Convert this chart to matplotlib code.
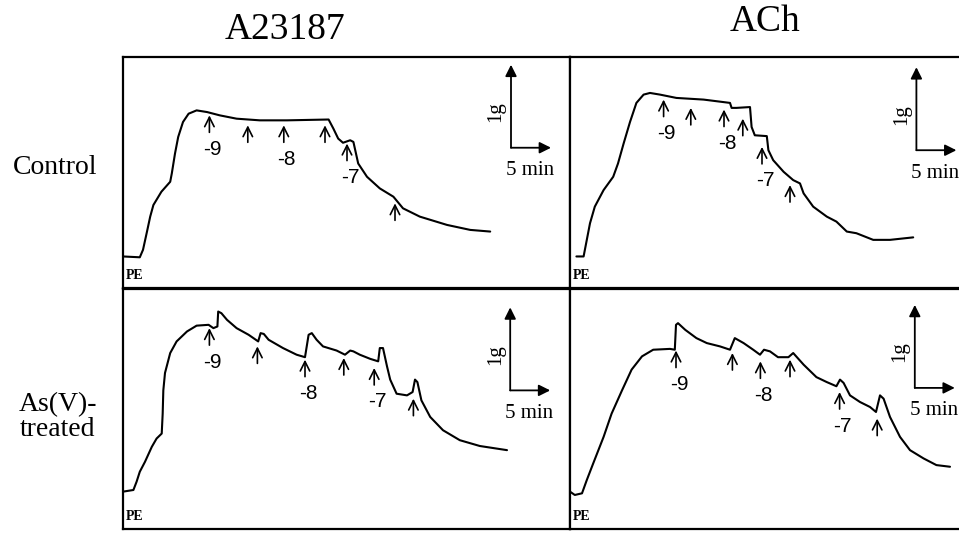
import matplotlib
matplotlib.use("Agg")
import matplotlib.pyplot as plt

# Contraction traces (time in min, tension in g)
# Control / A23187
ctl_a23_t = [0, 2.1, 2.5, 3.0, 3.4, 3.8, 4.8, 5.9, 6.1, 6.5, 6.9, 7.5, 8.2, 9.2, 10.5, 12.1,
             14.2, 17.1, 20.5, 25.7, 26.3, 26.9, 27.5, 28.4, 28.8, 29.4, 30.5, 32.1, 33.8,
             35.0, 37.1, 40.5, 43.4, 45.9]
ctl_a23_g = [0.38, 0.37, 0.46, 0.68, 0.86, 1.00, 1.16, 1.28, 1.38, 1.62, 1.82, 2.00, 2.10, 2.14,
             2.12, 2.08, 2.04, 2.02, 2.02, 2.03, 1.92, 1.80, 1.75, 1.78, 1.76, 1.50, 1.34,
             1.20, 1.10, 0.96, 0.86, 0.76, 0.70, 0.68]
ctl_a23_arrow_t = [10.8, 15.6, 20.1, 25.25, 28.0, 34.0]
ctl_a23_arrow_g = [2.08, 1.96, 1.96, 1.96, 1.74, 1.02]
ctl_a23_labels = ["-9", "", "-8", "", "-7", ""]

# Control / ACh
ctl_ach_t = [0.8, 1.7, 2.1, 2.5, 3.1, 4.2, 5.4, 6.0, 6.7, 7.5, 8.3, 9.2, 10.0, 11.25, 13.3,
             16.7, 20.0, 20.2, 20.8, 22.5, 22.7, 23.1, 24.6, 24.8, 25.4, 26.7, 27.9, 28.75,
             29.2, 30.4, 32.1, 33.3, 34.6, 35.8, 37.9, 40.0, 42.9]
ctl_ach_g = [0.38, 0.38, 0.58, 0.78, 0.98, 1.18, 1.34, 1.50, 1.74, 2.00, 2.23, 2.33, 2.35, 2.33,
             2.29, 2.27, 2.23, 2.17, 2.17, 2.18, 1.94, 1.84, 1.83, 1.66, 1.54, 1.40, 1.30,
             1.26, 1.14, 0.98, 0.86, 0.80, 0.68, 0.66, 0.58, 0.58, 0.61]
ctl_ach_arrow_t = [11.7, 15.1, 19.25, 21.6, 24.0, 27.5]
ctl_ach_arrow_g = [2.27, 2.17, 2.15, 2.04, 1.70, 1.24]
ctl_ach_labels = ["-9", "", "-8", "", "-7", ""]

# As(V)-treated / A23187
asv_a23_t = [0, 1.3, 1.7, 2.1, 2.75, 3.6, 4.2, 4.84, 4.96, 5.04, 5.25, 5.9, 6.7, 8.0, 9.2,
             10.7, 11.3, 11.8, 11.9, 12.3, 13.0, 14.2, 15.7, 16.9, 17.2, 17.6, 18.2, 20.0,
             21.7, 22.75, 23.2, 23.6, 24.2, 25.0, 26.7, 27.75, 28.4, 28.8, 29.6, 30.9, 31.9,
             32.1, 32.5, 33.0, 33.4, 34.2, 35.5, 36.2, 36.5, 36.8, 37.3, 38.4, 40.0, 42.1,
             44.6, 48.0]
asv_a23_g = [0.45, 0.47, 0.57, 0.69, 0.81, 0.99, 1.09, 1.15, 1.39, 1.67, 1.88, 2.12, 2.26, 2.38,
             2.45, 2.46, 2.42, 2.44, 2.62, 2.60, 2.52, 2.42, 2.34, 2.26, 2.36, 2.35, 2.28,
             2.18, 2.10, 2.07, 2.34, 2.36, 2.28, 2.20, 2.15, 2.10, 2.15, 2.14, 2.10, 2.05,
             2.02, 2.18, 2.18, 1.96, 1.80, 1.63, 1.61, 1.65, 1.80, 1.77, 1.55, 1.35, 1.19,
             1.07, 1.00, 0.95]
asv_a23_arrow_t = [10.8, 16.8, 22.75, 27.6, 31.4, 36.3]
asv_a23_arrow_g = [2.42, 2.20, 2.04, 2.06, 1.94, 1.57]
asv_a23_labels = ["-9", "", "-8", "", "-7", ""]

# As(V)-treated / ACh
asv_ach_t = [0, 0.6, 1.5, 2.1, 2.9, 4.2, 5.2, 6.5, 7.7, 9.0, 10.4, 12.5, 13.1, 13.25, 13.5,
             14.4, 15.8, 17.1, 18.75, 20.0, 20.6, 21.7, 22.9, 23.75, 24.25, 25.0, 26.0, 27.3,
             27.9, 29.2, 30.8, 32.1, 33.3, 33.75, 34.2, 35.0, 36.25, 37.5, 38.25, 38.75,
             39.2, 40.0, 41.25, 42.5, 44.2, 45.8, 47.5]
asv_ach_g = [0.45, 0.41, 0.43, 0.59, 0.79, 1.11, 1.39, 1.67, 1.92, 2.08, 2.16, 2.17, 2.16, 2.46,
             2.48, 2.40, 2.30, 2.24, 2.20, 2.16, 2.30, 2.24, 2.16, 2.10, 2.16, 2.14, 2.07,
             2.07, 2.12, 1.98, 1.83, 1.77, 1.72, 1.80, 1.76, 1.61, 1.53, 1.47, 1.41, 1.61,
             1.57, 1.35, 1.11, 0.95, 0.85, 0.77, 0.75]
asv_ach_arrow_t = [13.25, 20.3, 23.8, 27.5, 33.7, 38.4]
asv_ach_arrow_g = [2.15, 2.12, 2.02, 2.04, 1.65, 1.33]
asv_ach_labels = ["-9", "", "-8", "", "-7", ""]

col_titles = ["A23187", "ACh"]
row_titles = ["Control", "As(V)-\ntreated"]

# ---------------------------------------------------------------
W, H = 959, 533
PX_MIN = 8.0    # pixels per minute
PX_G = 83.0     # pixels per gram
serif = ["Liberation Serif", "DejaVu Serif"]

fig = plt.figure(figsize=(W / 100, H / 100), dpi=100)


def make_axes(left, right, top, bottom):
    ax = fig.add_axes([left / W, (H - bottom) / H, (right - left) / W, (bottom - top) / H])
    ax.set_xlim(0, (right - left) / PX_MIN)
    ax.set_ylim(0, (bottom - top) / PX_G)
    ax.set_xticks([])
    ax.set_yticks([])
    for s in ax.spines.values():
        s.set_linewidth(1.6)
        s.set_color("black")
    return ax


def draw_panel(ax, t, g, arrow_t, arrow_g, labels, bar_t, bar_g):
    ax.plot(t, g, color="black", lw=1.5, solid_joinstyle="round", solid_capstyle="round")
    # drug additions
    for at, ag, lab in zip(arrow_t, arrow_g, labels):
        ax.annotate("", xy=(at, ag), xytext=(0, -17), textcoords="offset pixels",
                    xycoords="data",
                    arrowprops=dict(arrowstyle="->", lw=1.2, color="black",
                                    shrinkA=0, shrinkB=0, mutation_scale=17))
        if lab:
            ax.annotate(lab, xy=(at, ag), xytext=(3, -34), textcoords="offset pixels",
                        ha="center", va="center", fontsize=15,
                        family=["Liberation Sans", "DejaVu Sans"])
    # scale bar: 1 g / 5 min
    ax.annotate("", xy=(bar_t, bar_g + 1.0), xytext=(bar_t, bar_g),
                arrowprops=dict(arrowstyle="-|>", lw=1.3, color="black",
                                shrinkA=0, shrinkB=0, mutation_scale=17))
    ax.annotate("", xy=(bar_t + 5.0, bar_g), xytext=(bar_t, bar_g),
                arrowprops=dict(arrowstyle="-|>", lw=1.3, color="black",
                                shrinkA=0, shrinkB=0, mutation_scale=17))
    ax.annotate("1g", xy=(bar_t, bar_g), xytext=(-15, 36), textcoords="offset pixels",
                ha="center", va="center", rotation=90, fontsize=15, family=serif)
    ax.annotate("5 min", xy=(bar_t, bar_g), xytext=(19, -23), textcoords="offset pixels",
                ha="center", va="center", fontsize=15, family=serif)
    ax.text(0.006, 0.025, "PE", transform=ax.transAxes, ha="left", va="bottom",
            fontsize=10, fontweight="bold", family=serif)


ax_tl = make_axes(123, 570, 57, 288)
ax_tr = make_axes(570, 966, 57, 288)
ax_bl = make_axes(123, 570, 289, 529)
ax_br = make_axes(570, 966, 289, 529)

draw_panel(ax_tl, ctl_a23_t, ctl_a23_g, ctl_a23_arrow_t, ctl_a23_arrow_g, ctl_a23_labels, 48.5, 1.69)
draw_panel(ax_tr, ctl_ach_t, ctl_ach_g, ctl_ach_arrow_t, ctl_ach_arrow_g, ctl_ach_labels, 43.3, 1.66)
draw_panel(ax_bl, asv_a23_t, asv_a23_g, asv_a23_arrow_t, asv_a23_arrow_g, asv_a23_labels, 48.4, 1.67)
draw_panel(ax_br, asv_ach_t, asv_ach_g, asv_ach_arrow_t, asv_ach_arrow_g, asv_ach_labels, 43.1, 1.70)

# column and row headings
fig.text(285 / W, 1 - 30 / H, col_titles[0], ha="center", va="center", fontsize=27, family=serif)
fig.text(765 / W, 1 - 22 / H, col_titles[1], ha="center", va="center", fontsize=27, family=serif)
fig.text(55 / W, 1 - 168 / H, row_titles[0], ha="center", va="center", fontsize=20, family=serif)
fig.text(58 / W, 1 - 417 / H, row_titles[1], ha="center", va="center", fontsize=20, family=serif,
         linespacing=1.0)

fig.savefig("out.png", dpi=100)
